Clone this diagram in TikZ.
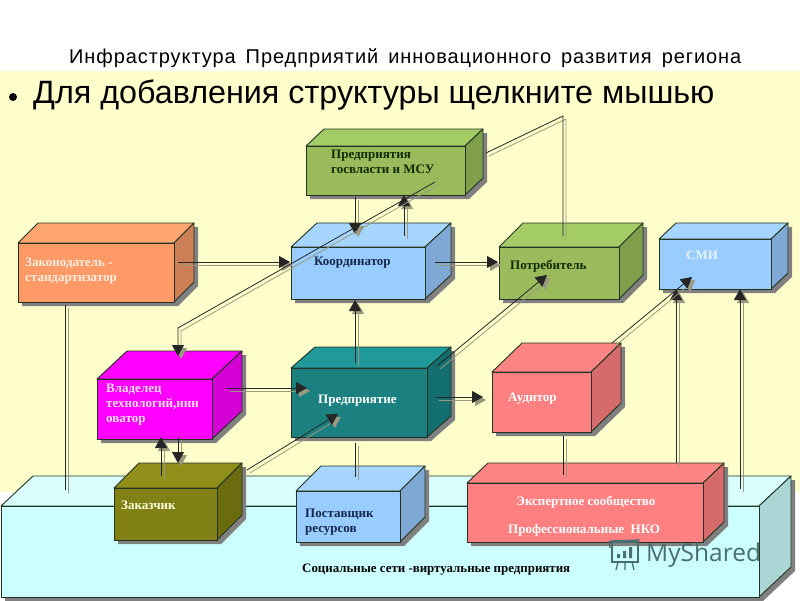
\documentclass[tikz,border=0pt]{standalone}
\usepackage{fontspec}
\setmainfont{Liberation Serif}
\newfontfamily\arialf{Liberation Sans}
\newfontfamily\titlef[LetterSpace=4.6,WordSpace=1.55]{Liberation Sans}
\usetikzlibrary{arrows.meta}
\definecolor{bgy}{HTML}{FFFFCC}
\definecolor{shd}{HTML}{808080}
\definecolor{shl}{HTML}{9A9A80}
\definecolor{edge}{HTML}{223322}
\definecolor{cyanF}{HTML}{CCFFFF}\definecolor{cyanT}{HTML}{D9FFFF}\definecolor{cyanS}{HTML}{ACD6D6}
\definecolor{orangeF}{HTML}{FF9966}\definecolor{orangeT}{HTML}{FFA56F}\definecolor{orangeS}{HTML}{CC7F55}
\definecolor{greenF}{HTML}{99BB5C}\definecolor{greenT}{HTML}{A3CC66}\definecolor{greenS}{HTML}{7F9F4C}
\definecolor{blueF}{HTML}{99CCFF}\definecolor{blueT}{HTML}{A6D5FF}\definecolor{blueS}{HTML}{7FA8D5}
\definecolor{magF}{HTML}{FF00FF}\definecolor{magT}{HTML}{FF00FF}\definecolor{magS}{HTML}{D500D5}
\definecolor{tealF}{HTML}{1A8080}\definecolor{tealT}{HTML}{1F9999}\definecolor{tealS}{HTML}{147070}
\definecolor{pinkF}{HTML}{FF8080}\definecolor{pinkT}{HTML}{FF8585}\definecolor{pinkS}{HTML}{D56B6B}
\definecolor{oliveF}{HTML}{808015}\definecolor{oliveT}{HTML}{8F8F1A}\definecolor{oliveS}{HTML}{6B6B10}
\definecolor{txtOr}{HTML}{FFEFE0}\definecolor{txtSm}{HTML}{E8F4FF}\definecolor{txtMg}{HTML}{FFE0FF}
\definecolor{txtOl}{HTML}{FFFFE0}\definecolor{txtNv}{HTML}{14284A}\definecolor{txtGr}{HTML}{142A00}
\definecolor{wmk}{HTML}{4A6E70}
\tikzset{
  frontbox/.style={draw=edge,line width=0.9pt,inner sep=0pt,outer sep=0pt},
  facepoly/.style={draw=edge,line width=0.9pt,line join=round},
  lbl/.style={anchor=west,inner sep=0pt,text height=12pt,text depth=3pt,font=\fontsize{13}{15}\selectfont\bfseries},
  blk/.style={line width=0.8pt,draw=black!85},
  shw/.style={line width=0.8pt,draw=shl},
  tip/.style={-{Triangle[length=11pt,width=12pt]}},
}
% name x1 y1 x2 y2 dx dy palette
\newcommand\threed[8]{%
  \expandafter\def\csname nx#1\endcsname{#2}%
  \expandafter\def\csname ny#1\endcsname{#3}%
  \fill[shd] ({#2+4},{#3+4}) -- ({#2+4+#6},{#3+4-#7}) -- ({#4+4+#6},{#3+4-#7}) -- ({#4+4+#6},{#5+4-#7}) -- ({#4+4},{#5+4}) -- ({#2+4},{#5+4}) -- cycle;
  \filldraw[facepoly,fill=#8T] (#2,#3) -- ({#2+#6},{#3-#7}) -- ({#4+#6},{#3-#7}) -- (#4,#3) -- cycle;
  \filldraw[facepoly,fill=#8S] (#4,#3) -- ({#4+#6},{#3-#7}) -- ({#4+#6},{#5-#7}) -- (#4,#5) -- cycle;
  \node[frontbox,fill=#8F,minimum width={#4-#2},minimum height={#5-#3}] (#1) at ({(#2+#4)/2},{(#3+#5)/2}) {};}
\newcommand\ptat[4]{([shift={({#2-\csname nx#1\endcsname+#4},{#3-\csname ny#1\endcsname+#4})}]#1.north west)}
\newcommand\cn[7][]{%
  \draw[shw,#1] \ptat{#2}{#3}{#4}{3} -- \ptat{#5}{#6}{#7}{3};
  \draw[blk,#1] \ptat{#2}{#3}{#4}{0} -- \ptat{#5}{#6}{#7}{0};}
\newcommand\cnb[8][]{%
  \draw[shw,#1] \ptat{#2}{#3}{#4}{3} -- ([shift={(3,3)}]#8) -- \ptat{#5}{#6}{#7}{3};
  \draw[blk,#1] \ptat{#2}{#3}{#4}{0} -- (#8) -- \ptat{#5}{#6}{#7}{0};}
\begin{document}
\begin{tikzpicture}[x=1pt,y=-1pt]
\useasboundingbox (0,0) rectangle (800,600);
\fill[white] (0,0) rectangle (800,600);
\fill[bgy] (0,71) rectangle (800,492);
\node[anchor=base west,inner sep=0pt,font=\titlef\fontsize{20}{22}\selectfont] (title) at (69,63) {Инфраструктура Предприятий инновационного развития региона};
\node[circle,fill=black,minimum size=8pt,inner sep=0pt] (bul) at (13,97) {};
\node[anchor=base west,inner sep=0pt,font=\arialf\fontsize{32.3}{34}\selectfont] (sub) at (33,103) {Для добавления структуры щелкните мышью};
% platform
\threed{plat}{1}{506}{759}{597}{32}{30}{cyan}
% boxes
\threed{law}{18}{243}{174}{302}{20}{20}{orange}
\threed{gos}{306}{146}{465}{195}{18}{17}{green}
\threed{coord}{291}{247}{425}{299}{26}{24}{blue}
\threed{potr}{499}{247}{619}{299}{24}{24}{green}
\threed{smi}{659}{239}{771}{289}{17}{16}{blue}
\threed{vlad}{97}{379}{212}{439}{30}{28}{mag}
\threed{pred}{291}{368}{427}{437}{24}{21}{teal}
\threed{aud}{492}{372}{591}{432}{30}{29}{pink}
\threed{zak}{114}{488}{217}{540}{25}{25}{olive}
\threed{post}{296}{491}{400}{542}{25}{25}{blue}
\threed{exp}{467}{483}{703}{542}{21}{20}{pink}
% bends
\coordinate (bendA) at (178,328);
\coordinate (bendB) at (563,116);
% connectors
\cn[tip]{law}{178}{262}{coord}{290}{262}
\cn[tip]{gos}{355}{197}{coord}{355}{234}
\cn[tip]{coord}{404}{236}{gos}{404}{195}
\cnb[tip]{gos}{435}{182}{vlad}{178}{356}{bendA}
\cnb{potr}{563}{236}{gos}{486}{153}{bendB}
\cn[tip]{coord}{435}{262}{potr}{498}{262}
\cn[tip]{pred}{355}{363}{coord}{355}{300}
\cn[tip]{pred}{437}{366}{potr}{547}{275}
\cn{law}{65}{305}{plat}{65}{490}
\cn[tip]{vlad}{227}{388}{pred}{307}{388}
\cn[tip]{pred}{436}{397}{aud}{483}{397}
\cn[tip]{zak}{161}{476}{vlad}{161}{437}
\cn[tip]{vlad}{178}{437}{zak}{178}{463}
\cn[tip]{zak}{247}{470}{pred}{338}{414}
\cn{pred}{355}{443}{post}{355}{477}
\cn{aud}{563}{436}{exp}{563}{475}
\cn[tip]{exp}{676}{463}{smi}{676}{289}
\cn[tip]{plat}{740}{489}{smi}{740}{289}
\cn[tip]{aud}{612}{343}{smi}{692}{277}
% labels
\node[lbl,text=txtGr] (tGosA) at (331,154) {Предприятия};
\node[lbl,text=txtGr] (tGosB) at (331,169) {госвласти и МСУ};
\node[lbl,text=txtOr] (tLawA) at (25,262) {Законодатель -};
\node[lbl,text=txtOr] (tLawB) at (25,277) {стандартизатор};
\node[lbl,text=txtNv] (tCoord) at (314,261) {Координатор};
\node[lbl,text=txtGr] (tPotr) at (510,265) {Потребитель};
\node[lbl,text=txtSm] (tSmi) at (686,255) {СМИ};
\node[lbl,text=txtMg] (tVladA) at (106,388) {Владелец};
\node[lbl,text=txtMg] (tVladB) at (106,403) {технологий,инн};
\node[lbl,text=txtMg] (tVladC) at (106,418) {оватор};
\node[lbl,text=white] (tPred) at (318,399) {Предприятие};
\node[lbl,text=white] (tAud) at (508,397) {Аудитор};
\node[lbl,text=txtOl] (tZak) at (121,505) {Заказчик};
\node[lbl,text=txtNv] (tPostA) at (305,513) {Поставщик};
\node[lbl,text=txtNv] (tPostB) at (305,528) {ресурсов};
\node[lbl,text=white] (tExpA) at (516,501) {Экспертное сообщество};
\node[lbl,text=white] (tExpB) at (508,529) {Профессиональные\ \ НКО};
\node[lbl,text=black,font=\fontsize{12.9}{15}\selectfont\bfseries] (tSoc) at (302,568) {Социальные сети -виртуальные предприятия};
% watermark
\node[anchor=west,inner sep=0pt,text=wmk,font=\fontspec{Open Sans}\fontsize{24.5}{26}\selectfont] (tMark) at (646,555) {MyShared};
\draw[wmk,line width=1.3pt] (612,542) rectangle (638,562);
\draw[wmk,line width=1.3pt,rounded corners=1pt] (610,548) -- (609,541) -- (640,540) (618,562) -- (616,570) (632,562) -- (634,570) (625,562) -- (625,570);
\fill[wmk] (617,554) rectangle (620,558) (623,551) rectangle (626,558) (629,547) rectangle (632,558);
\end{tikzpicture}
\end{document}
